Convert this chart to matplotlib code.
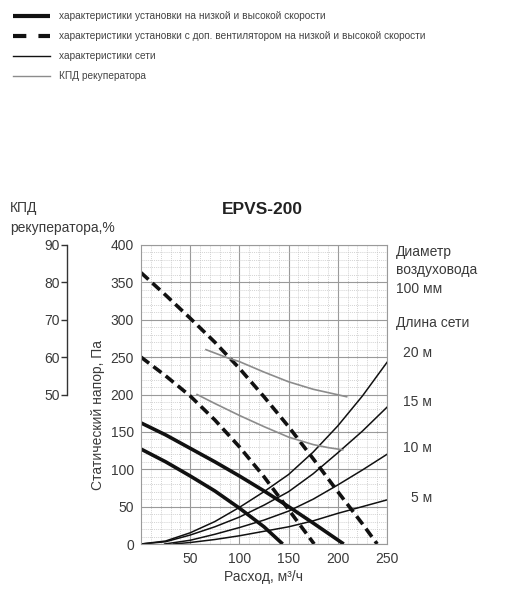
import numpy as np
import matplotlib.pyplot as plt
from matplotlib.ticker import MultipleLocator

plt.rcParams['font.family'] = ['Liberation Sans', 'DejaVu Sans']

# Характеристики установки (низкая / высокая скорость)
fan_low_x = [0, 25, 50, 75, 100, 125, 144]
fan_low_y = [127, 110, 91, 71, 48, 23, 0]
fan_high_x = [0, 25, 50, 75, 100, 125, 150, 175, 206]
fan_high_y = [162, 146, 128, 110, 91, 71, 50, 28, 0]

# С доп. вентилятором
fan2_low_x = [0, 25, 50, 75, 100, 125, 150, 176]
fan2_low_y = [250, 225, 198, 166, 130, 90, 46, 0]
fan2_high_x = [0, 25, 50, 75, 100, 125, 150, 175, 200, 225, 240]
fan2_high_y = [363, 333, 302, 270, 235, 197, 157, 114, 70, 27, 0]

# Характеристики сети, длина 20/15/10/5 м
net_labels = ['20 м', '15 м', '10 м', '5 м']
net_x = [
    [0, 25, 50, 75, 100, 125, 150, 175, 200, 225, 250],
    [0, 25, 50, 75, 100, 125, 150, 175, 200, 225, 250],
    [24, 50, 75, 100, 125, 150, 175, 200, 225, 250],
    [33, 50, 75, 100, 125, 150, 175, 200, 225, 250],
]
net_y = [
    [0, 4, 15, 30, 49, 70, 93, 123, 158, 198, 243],
    [0, 3, 12, 23, 36, 52, 70, 94, 122, 151, 183],
    [0, 5, 13, 22, 32, 44, 60, 79, 99, 120],
    [0, 2, 6, 11, 17, 23, 31, 41, 50, 59],
]

# КПД рекуператора, %
eff_hi_x = [66, 88, 100, 125, 150, 175, 209]
eff_hi_y = [62.0, 59.8, 58.8, 56.0, 53.4, 51.4, 49.4]
eff_lo_x = [57, 75, 100, 125, 150, 175, 190, 205]
eff_lo_y = [50.0, 47.6, 44.4, 41.4, 38.6, 36.6, 35.8, 35.2]

legend_labels = [
    'характеристики установки на низкой и высокой скорости',
    'характеристики установки с доп. вентилятором на низкой и высокой скорости',
    'характеристики сети',
    'КПД рекуператора',
]

txt = '#3a3a3a'
W, H = 527, 600
fig = plt.figure(figsize=(W / 100, H / 100), dpi=100)

# ---- legend at top ----
leg = fig.add_axes([0, 0, 1, 1])
leg.set_xlim(0, W)
leg.set_ylim(H, 0)
leg.axis('off')
rows = [16, 36, 56, 76]
leg.plot([13, 50], [rows[0]] * 2, color='#111', lw=3.0, solid_capstyle='butt')
leg.plot([13, 50], [rows[1]] * 2, color='#111', lw=3.0, dashes=(3.2, 2.9))
leg.plot([13, 50], [rows[2]] * 2, color='#111', lw=1.0)
leg.plot([13, 50], [rows[3]] * 2, color='#8c8c8c', lw=1.0)
for r, s in zip(rows, legend_labels):
    leg.text(59, r, s, fontsize=7.3, color='#444', va='center', ha='left')

# ---- main chart ----
ax = fig.add_axes([141 / W, 1 - 544 / H, 246 / W, 299 / H])
ax.set_xlim(0, 250)
ax.set_ylim(0, 400)
ax.xaxis.set_major_locator(MultipleLocator(50))
ax.yaxis.set_major_locator(MultipleLocator(50))
ax.xaxis.set_minor_locator(MultipleLocator(10))
ax.yaxis.set_minor_locator(MultipleLocator(10))
ax.grid(which='major', color='#9a9a9a', lw=0.8)
ax.grid(which='minor', color='#c4c4c4', lw=0.5, linestyle=(0, (1.5, 1.5)))
ax.set_axisbelow(True)
for sp in ax.spines.values():
    sp.set_color('#9a9a9a')
    sp.set_linewidth(0.8)
ax.tick_params(which='both', length=0, labelsize=10, colors=txt)
ax.tick_params(axis='x', pad=6)
ax.tick_params(axis='y', pad=5)
ax.set_xticks([50, 100, 150, 200, 250])

for xs, ys in zip(net_x, net_y):
    ax.plot(xs, ys, color='#111', lw=1.1)
ax.plot(fan_low_x, fan_low_y, color='#111', lw=2.6, solid_capstyle='butt')
ax.plot(fan_high_x, fan_high_y, color='#111', lw=2.6, solid_capstyle='butt')
ax.plot(fan2_low_x, fan2_low_y, color='#111', lw=2.6, dashes=(2.8, 1.5))
ax.plot(fan2_high_x, fan2_high_y, color='#111', lw=2.6, dashes=(2.8, 1.5))

# КПД scale: 50..90 % mapped to the upper half of the chart
ax2 = ax.twinx()
ax2.set_ylim(10, 90)
ax2.plot(eff_hi_x, eff_hi_y, color='#8c8c8c', lw=1.2)
ax2.plot(eff_lo_x, eff_lo_y, color='#8c8c8c', lw=1.2)
for s in ['top', 'right', 'bottom']:
    ax2.spines[s].set_visible(False)
ax2.spines['left'].set_position(('axes', -0.301))
ax2.spines['left'].set_bounds(50, 90)
ax2.spines['left'].set_color('#333')
ax2.spines['left'].set_linewidth(1.0)
ax2.yaxis.set_ticks_position('left')
ax2.yaxis.set_label_position('left')
ax2.set_yticks([50, 60, 70, 80, 90])
ax2.tick_params(axis='y', length=4, width=1.0, color='#333', labelsize=10,
                labelcolor=txt, pad=1)

fig.text(262 / W, 1 - 210 / H, 'EPVS-200', fontsize=12.5, fontweight='bold',
         color='#222', ha='center', va='center')
fig.text(98 / W, 1 - 415 / H, 'Статический напор, Па', rotation=90,
         fontsize=10, color=txt, ha='center', va='center')
fig.text(263 / W, 1 - 577 / H, 'Расход, м³/ч', fontsize=10, color=txt,
         ha='center', va='center')
fig.text(10 / W, 1 - 208 / H, 'КПД', fontsize=10, color=txt, va='center')
fig.text(10 / W, 1 - 228 / H, 'рекуператора,%', fontsize=10, color=txt,
         va='center')

for s, y in [('Диаметр', 252), ('воздуховода', 270), ('100 мм', 289),
             ('Длина сети', 323)]:
    fig.text(396 / W, 1 - y / H, s, fontsize=10, color=txt, va='center')
for s, y in zip(net_labels, [353, 402, 448, 498]):
    fig.text(432 / W, 1 - y / H, s, fontsize=10, color=txt, va='center',
             ha='right')

fig.savefig('out.png', dpi=100)
